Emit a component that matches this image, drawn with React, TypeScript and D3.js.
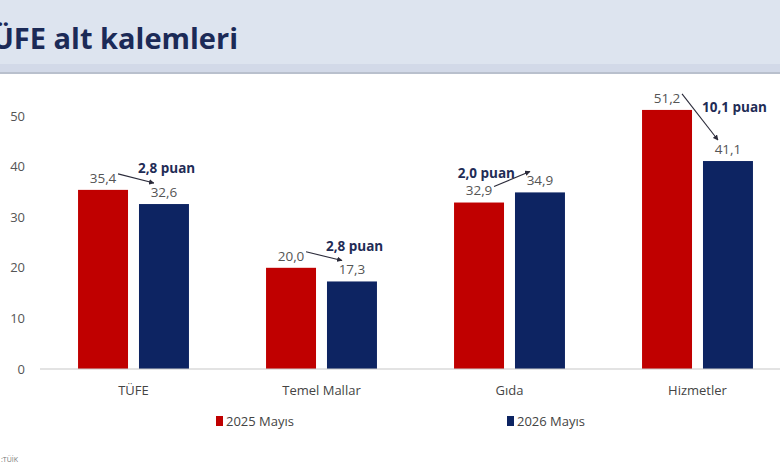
import * as React from "react";
import * as d3 from "d3";

const categories: string[] = ["TÜFE", "Temel Mallar", "Gıda", "Hizmetler"];
const seriesNames: string[] = ["2025 Mayıs", "2026 Mayıs"];
const may2025: number[] = [35.4, 20.0, 32.9, 51.2];
const may2026: number[] = [32.6, 17.3, 34.9, 41.1];
const changeLabels: string[] = ["2,8 puan", "2,8 puan", "2,0 puan", "10,1 puan"];
const yTicks: number[] = [0, 10, 20, 30, 40, 50];

const WIDTH = 780;
const HEIGHT = 470;
const RED = "#c00000";
const NAVY = "#0d2462";
const FONT = "'Open Sans', 'Liberation Sans', sans-serif";

const fmt = (v: number): string => v.toFixed(1).replace(".", ",");

export default function App(): JSX.Element {
  const x = d3.scaleBand<string>()
    .domain(categories)
    .range([39.5, 791.5])
    .paddingInner(0.41)
    .paddingOuter(0.205);

  const xInner = d3.scaleBand<string>()
    .domain(seriesNames)
    .range([0, x.bandwidth()])
    .paddingInner(0.18);

  const y = d3.scaleLinear().domain([0, 50]).range([369, 116]);
  const colors = d3.scaleOrdinal<string, string>().domain(seriesNames).range([RED, NAVY]);
  const values: number[][] = [may2025, may2026];

  return (
    <svg width={WIDTH} height={HEIGHT} style={{ position: "absolute", left: 0, top: 0 }} fontFamily={FONT}>
      <defs>
        <marker id="arrowHead" viewBox="0 0 10 10" refX="9" refY="5" markerWidth="5" markerHeight="5" orient="auto">
          <path d="M0,0 L10,5 L0,10 z" fill="#2b2b3a" />
        </marker>
      </defs>
      <rect x={0} y={0} width={WIDTH} height={HEIGHT} fill="#ffffff" />

      {/* header band */}
      <rect x={0} y={0} width={WIDTH} height={64} fill="#dde4ef" />
      <rect x={0} y={64} width={WIDTH} height={8} fill="#d2d9e8" />
      <rect x={0} y={72} width={WIDTH} height={2} fill="#b9c0cd" />
      <text x={238} y={49} textAnchor="end" fontSize={29} fontWeight={700} fill="#1b2a57">
        TÜFE alt kalemleri
      </text>

      {/* y axis labels */}
      {yTicks.map((t) => (
        <text key={t} x={25} y={y(t)} dy="0.35em" textAnchor="end" fontSize={13} fill="#555">
          {t}
        </text>
      ))}

      {/* bars */}
      {categories.map((c, i) =>
        seriesNames.map((s, j) => (
          <rect
            key={c + s}
            x={(x(c) ?? 0) + (xInner(s) ?? 0)}
            y={y(values[j][i])}
            width={xInner.bandwidth()}
            height={y(0) - y(values[j][i])}
            fill={colors(s)}
          />
        ))
      )}

      {/* baseline */}
      <line x1={40} x2={WIDTH} y1={y(0)} y2={y(0)} stroke="#c8c8c8" strokeWidth={1.2} />

      {/* value labels and change arrows */}
      {categories.map((c, i) => {
        const cx = (s: string) => (x(c) ?? 0) + (xInner(s) ?? 0) + xInner.bandwidth() / 2;
        const r = { x: cx(seriesNames[0]), y: y(may2025[i]) - 12 };
        const n = { x: cx(seriesNames[1]), y: y(may2026[i]) - 12 };
        const x1 = r.x + 15;
        const y1 = r.y - 4;
        const x2 = n.x - 10;
        const y2 = n.y - 9;
        const mx = (x1 + x2) / 2;
        const my = (y1 + y2) / 2;
        const goingUp = may2026[i] > may2025[i];
        return (
          <g key={c}>
            <text x={r.x} y={r.y} dy="0.35em" textAnchor="middle" fontSize={13.5} fill="#555">
              {fmt(may2025[i])}
            </text>
            <text x={n.x} y={n.y} dy="0.35em" textAnchor="middle" fontSize={13.5} fill="#555">
              {fmt(may2026[i])}
            </text>
            <line x1={x1} y1={y1} x2={x2} y2={y2} stroke="#2b2b3a" strokeWidth={1.1} markerEnd="url(#arrowHead)" />
            <text
              x={goingUp ? mx + 3 : mx + 2}
              y={goingUp ? my - 6 : my - 10}
              dy="0.35em"
              textAnchor={goingUp ? "end" : "start"}
              fontSize={13.5}
              fontWeight={700}
              fill="#1f2c56"
            >
              {changeLabels[i]}
            </text>
          </g>
        );
      })}

      {/* category labels */}
      {categories.map((c) => (
        <text key={c} x={(x(c) ?? 0) + x.bandwidth() / 2} y={390} dy="0.35em" textAnchor="middle" fontSize={13} fill="#444">
          {c}
        </text>
      ))}

      {/* legend */}
      {seriesNames.map((s, j) => {
        const lx = j === 0 ? 216 : 507;
        return (
          <g key={s} transform={`translate(${lx}, 421)`}>
            <rect x={0} y={-5} width={7} height={10} fill={colors(s)} />
            <text x={10} y={0} dy="0.35em" fontSize={13} fill="#444">
              {s}
            </text>
          </g>
        );
      })}

      <text x={1} y={460} dy="0.35em" fontSize={7} fill="#777">
        :TÜİK
      </text>
    </svg>
  );
}
